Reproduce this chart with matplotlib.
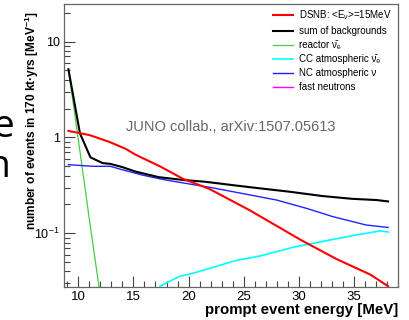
import numpy as np
import matplotlib
matplotlib.use('Agg')
import matplotlib.pyplot as plt
from matplotlib.ticker import LogLocator, MultipleLocator, FixedLocator, NullFormatter

plt.rcParams['font.family'] = ['Liberation Sans', 'DejaVu Sans']
plt.rcParams['mathtext.fontset'] = 'custom'
plt.rcParams['mathtext.rm'] = 'Liberation Sans'
plt.rcParams['mathtext.it'] = 'Liberation Sans:italic'
plt.rcParams['mathtext.bf'] = 'Liberation Sans:bold'

# DSNB signal, <E_nu> = 15 MeV
dsnb_x = [9.1, 11.0, 12.8, 14.3, 15.2, 17.4, 19.5, 21.9, 25.5, 30.2, 33.4, 36.5, 38.1]
dsnb_y = [1.17, 1.06, 0.90, 0.76, 0.66, 0.50, 0.37, 0.29, 0.175, 0.085, 0.054, 0.037, 0.028]

# sum of backgrounds
sum_x = [9.1, 10.15, 11.1, 12.2, 12.9, 14.0, 15.2, 17.3, 19.5, 21.5, 24.0, 26.4, 29.1, 32.1, 34.8, 37.1, 38.1]
sum_y = [5.15, 1.10, 0.62, 0.54, 0.53, 0.49, 0.44, 0.385, 0.36, 0.345, 0.318, 0.295, 0.272, 0.245, 0.229, 0.222, 0.215]

# reactor anti-nu_e
reac_x = [9.1, 10.0, 11.0, 12.0]
reac_y = [5.1, 0.95, 0.14, 0.022]

# CC atmospheric anti-nu_e
cc_x = [17.4, 19.2, 20.1, 21.3, 24.3, 26.5, 29.5, 31.0, 32.8, 35.0, 37.4, 38.1]
cc_y = [0.028, 0.0356, 0.0375, 0.041, 0.052, 0.058, 0.0715, 0.0775, 0.085, 0.095, 0.106, 0.103]

# NC atmospheric nu
nc_x = [9.1, 11.3, 12.9, 13.7, 15.8, 17.9, 20.7, 21.9, 24.9, 28.0, 30.7, 33.1, 36.1, 38.1]
nc_y = [0.52, 0.50, 0.50, 0.47, 0.405, 0.36, 0.318, 0.302, 0.26, 0.222, 0.182, 0.149, 0.122, 0.115]

# fast neutrons (below the plotted range)
fn_x = []
fn_y = []

labels = ['DSNB: <E$_\\nu$>=15MeV', 'sum of backgrounds', 'reactor \u03bd\u0304\u2091',
          'CC atmospheric \u03bd\u0304\u2091', 'NC atmospheric \u03bd', 'fast neutrons']

fig = plt.figure(figsize=(4.1, 3.2), dpi=100)
ax = fig.add_axes([64 / 410, 1 - 287 / 320, (398 - 64) / 410, (287 - 4) / 320])

ax.plot(dsnb_x, dsnb_y, color='#ff0000', lw=1.5, label=labels[0], zorder=5)
ax.plot(sum_x, sum_y, color='black', lw=1.5, label=labels[1], zorder=4)
ax.plot(reac_x, reac_y, color='#44cc44', lw=0.9, label=labels[2], zorder=3)
ax.plot(cc_x, cc_y, color='#00ffff', lw=1.2, label=labels[3], zorder=3)
ax.plot(nc_x, nc_y, color='#2222ff', lw=1.0, label=labels[4], zorder=3)
ax.plot(fn_x, fn_y, color='#ff00ff', lw=1.0, label=labels[5])

ax.set_yscale('log')
ax.set_xlim(8.7, 39)
ax.set_ylim(0.0275, 24.7)

ax.xaxis.set_major_locator(FixedLocator([10, 15, 20, 25, 30, 35]))
ax.xaxis.set_minor_locator(MultipleLocator(1))
ax.yaxis.set_major_locator(FixedLocator([0.1, 1, 10]))
ax.yaxis.set_minor_locator(LogLocator(base=10, subs=np.arange(2, 10)))
ax.yaxis.set_minor_formatter(NullFormatter())
ax.set_yticklabels(['10$^{-1}$', '1', '10'])

ax.tick_params(axis='both', which='major', direction='in', length=8, width=0.8,
               color='#444444', labelsize=9.5, pad=3)
ax.tick_params(axis='y', which='major', labelsize=9)
ax.tick_params(axis='both', which='minor', direction='in', length=4, width=0.8, color='#444444')
for s in ax.spines.values():
    s.set_color('#666666')
    s.set_linewidth(0.9)

ax.text(0.5, 0.565, 'JUNO collab., arXiv:1507.05613', transform=ax.transAxes,
        ha='center', va='center', fontsize=10.5, color='#666666')

leg = ax.legend(loc='upper left', bbox_to_anchor=(0.625, 0.985), frameon=False,
                fontsize=7, handlelength=2.1, handletextpad=0.55, labelspacing=0.42,
                borderpad=0, borderaxespad=0)

fig.text(398 / 410, 1 - 310 / 320, 'prompt event energy [MeV]', ha='right', va='center',
         fontsize=10.8, fontweight='bold')
fig.text(32 / 410, 1 - 12 / 320, 'number of events in 170 kt\u00b7yrs [MeV$^{\\mathbf{-1}}$]',
         rotation=90, ha='center', va='top', fontsize=8.6, fontweight='bold')

# pieces of slide text cut by the crop
fig.text(15 / 410, 1 - 137 / 320, 'e', ha='right', va='baseline', fontsize=28,
         family='Open Sans', color='black')
fig.text(11 / 410, 1 - 177 / 320, 'n', ha='right', va='baseline', fontsize=28,
         family='Open Sans', color='black')

fig.savefig('out.png', dpi=100)
